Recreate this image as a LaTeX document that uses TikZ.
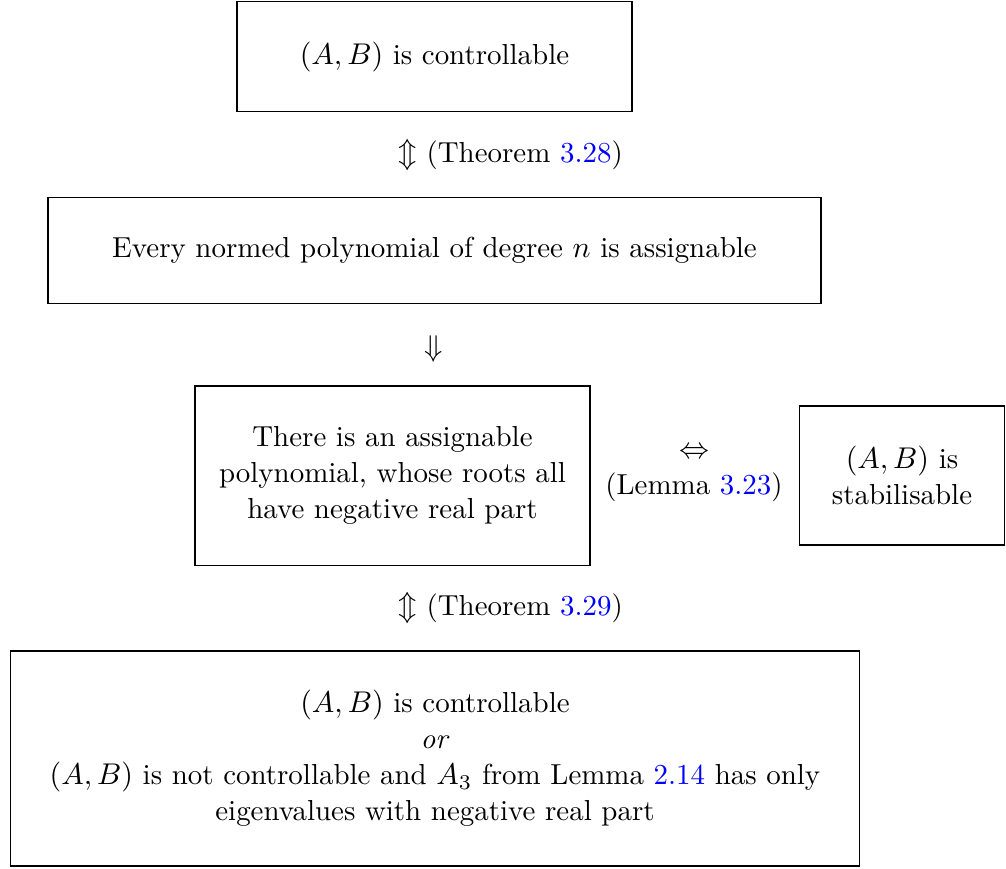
\documentclass[tikz,border=0pt]{standalone}
\usepackage{amsmath,amssymb}
\usepackage{tikz}

\newcommand{\reflink}[1]{\textcolor{blue}{#1}}
\tikzset{every node/.style={font=\fontsize{9.65pt}{12pt}\selectfont},
  stmt/.style={draw,align=center,inner sep=0pt}}

\begin{document}
\begin{tikzpicture}[x=0.01172cm,y=-0.01172cm]
	  \useasboundingbox (0,0) rectangle (1006,869);
	  % statements
	  \node[stmt,minimum width=4.63cm,minimum height=1.28cm] (ctrl) at (434.5,56.5) {$(A,B)$ is controllable};
	  \node[stmt,minimum width=9.06cm,minimum height=1.25cm] (every) at (434.5,250.5) {Every normed polynomial of degree $n$ is assignable};
	  \node[stmt,minimum width=4.63cm,minimum height=2.10cm] (some) at (392.5,475.5) {There is an assignable\\polynomial, whose roots all\\have negative real part};
	  \node[stmt,minimum width=2.41cm,minimum height=1.63cm] (stab) at (902,475.5) {$(A,B)$ is\\stabilisable};
	  \node[stmt,minimum width=9.94cm,minimum height=2.52cm] (decomp) at (435,758.5) {$(A,B)$ is controllable\\\textit{or}\\$(A,B)$ is not controllable and $A_3$ from Lemma \reflink{2.14} has only\\eigenvalues with negative real part};
	  % implications
	  \node[anchor=west] (t1) at (388,155) {$\Updownarrow$ (Theorem \reflink{3.28})};
	  \node (t2) at (434,349) {$\Downarrow$};
	  \node[align=center] (l1) at (694,475) {$\Leftrightarrow$\\(Lemma \reflink{3.23})};
	  \node[anchor=west] (t3) at (388,608) {$\Updownarrow$ (Theorem \reflink{3.29})};
	\end{tikzpicture}
\end{document}
